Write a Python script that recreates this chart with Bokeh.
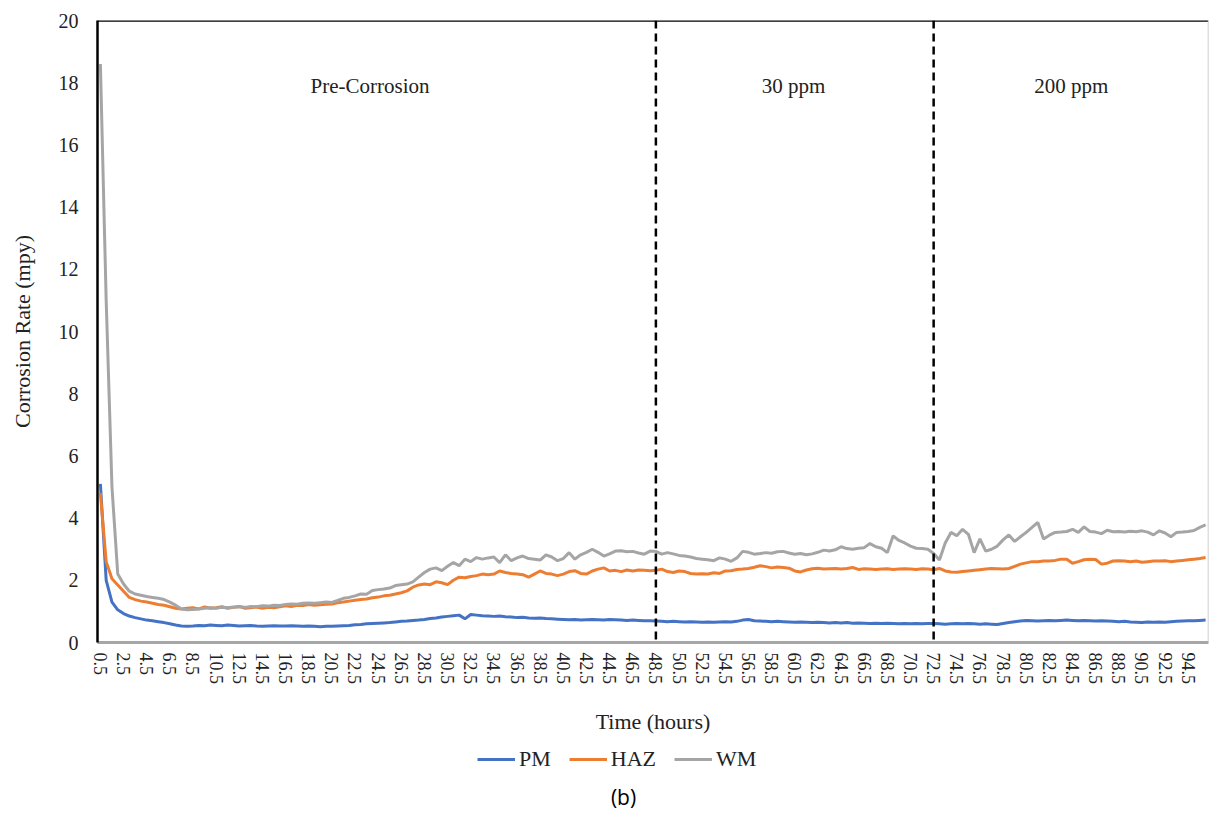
import numpy as np
from bokeh.plotting import figure
from bokeh.layouts import column
from bokeh.models import (Range1d, FixedTicker, Span, Legend, LegendItem, Label,
                          ColumnDataSource)
from bokeh.core.properties import value
from bokeh.embed import file_html
from bokeh.resources import INLINE

# ---------------- data ----------------
hours = list(np.arange(0.5, 96.01, 0.5))  # category axis, every 0.5 h

pm = [
    5.1, 2.0, 1.3, 1.05, 0.93, 0.85, 0.8, 0.76, 0.72, 0.7, 0.67, 0.64, 0.6, 0.56, 0.53, 0.52,
    0.53, 0.55, 0.54, 0.56, 0.55, 0.54, 0.56, 0.55, 0.53, 0.54, 0.55, 0.53, 0.52, 0.53, 0.54, 0.53,
    0.53, 0.54, 0.53, 0.52, 0.53, 0.52, 0.51, 0.52, 0.52, 0.53, 0.54, 0.55, 0.57, 0.58, 0.6, 0.61,
    0.62, 0.63, 0.64, 0.66, 0.68, 0.69, 0.71, 0.72, 0.74, 0.77, 0.79, 0.82, 0.84, 0.86, 0.88, 0.76,
    0.9, 0.88, 0.86, 0.85, 0.84, 0.85, 0.83, 0.82, 0.8, 0.81, 0.79, 0.78, 0.79, 0.77, 0.76, 0.75,
    0.74, 0.73, 0.74, 0.72, 0.73, 0.74, 0.73, 0.72, 0.74, 0.73, 0.72, 0.71, 0.72, 0.71, 0.7, 0.7,
    0.69, 0.68, 0.67, 0.68, 0.67, 0.66, 0.67, 0.66, 0.65, 0.66, 0.65, 0.66, 0.67, 0.66, 0.68, 0.72,
    0.74, 0.7, 0.69, 0.68, 0.67, 0.68, 0.67, 0.66, 0.65, 0.66, 0.65, 0.64, 0.65, 0.64, 0.63, 0.64,
    0.63, 0.64, 0.62, 0.63, 0.62, 0.61, 0.62, 0.61, 0.62, 0.61, 0.6, 0.61, 0.6, 0.61, 0.6, 0.61,
    0.61, 0.6, 0.59, 0.6, 0.61, 0.6, 0.61, 0.6, 0.59, 0.6, 0.59, 0.58, 0.61, 0.64, 0.67, 0.69,
    0.71, 0.7, 0.69, 0.7, 0.71, 0.7, 0.71, 0.72, 0.71, 0.7, 0.71, 0.7, 0.69, 0.7, 0.69, 0.68,
    0.67, 0.68, 0.66, 0.65, 0.64, 0.66, 0.65, 0.66, 0.65, 0.67, 0.68, 0.69, 0.7, 0.7, 0.71, 0.72,
]

haz = [
    4.8, 2.6, 2.05, 1.85, 1.65, 1.45, 1.38, 1.33, 1.3, 1.26, 1.22, 1.2, 1.15, 1.1, 1.08, 1.1,
    1.12, 1.08, 1.14, 1.1, 1.12, 1.15, 1.1, 1.13, 1.16, 1.1, 1.12, 1.14, 1.1, 1.13, 1.12, 1.15,
    1.18, 1.16, 1.2, 1.19, 1.22, 1.2, 1.21, 1.23, 1.24, 1.28, 1.3, 1.33, 1.36, 1.38, 1.4, 1.44,
    1.46, 1.5, 1.52, 1.56, 1.6, 1.66, 1.78, 1.85, 1.88, 1.86, 1.95, 1.92, 1.86, 2.0, 2.1, 2.08,
    2.12, 2.15, 2.2, 2.18, 2.2, 2.3, 2.25, 2.22, 2.2, 2.18, 2.1, 2.2, 2.3, 2.22, 2.2, 2.15,
    2.2, 2.28, 2.31, 2.22, 2.2, 2.3, 2.36, 2.4, 2.3, 2.32, 2.28, 2.33, 2.3, 2.33, 2.32, 2.31,
    2.32, 2.36, 2.28, 2.25, 2.3, 2.28, 2.22, 2.2, 2.21, 2.2, 2.24, 2.22, 2.3, 2.31, 2.35, 2.36,
    2.38, 2.42, 2.47, 2.44, 2.4, 2.43, 2.41, 2.39, 2.3, 2.27, 2.33, 2.37, 2.39, 2.36, 2.37, 2.38,
    2.36, 2.38, 2.41, 2.35, 2.37, 2.36, 2.35, 2.36, 2.37, 2.35, 2.36, 2.37, 2.36, 2.35, 2.37, 2.36,
    2.34, 2.38, 2.3, 2.27, 2.26, 2.28, 2.3, 2.32, 2.34, 2.36, 2.38, 2.37, 2.36, 2.38, 2.45, 2.52,
    2.56, 2.6, 2.6, 2.62, 2.62, 2.64, 2.68, 2.68, 2.55, 2.6, 2.66, 2.68, 2.67, 2.52, 2.55, 2.62,
    2.63, 2.62, 2.6, 2.62, 2.58, 2.6, 2.62, 2.62, 2.63, 2.6, 2.62, 2.64, 2.66, 2.68, 2.7, 2.73,
]

wm = [
    18.6, 11.0, 5.0, 2.2, 1.88, 1.65, 1.56, 1.52, 1.48, 1.45, 1.42, 1.38, 1.3, 1.2, 1.08, 1.05,
    1.06, 1.08, 1.1, 1.12, 1.1, 1.13, 1.12, 1.14, 1.15, 1.13, 1.16, 1.15, 1.18, 1.17, 1.2, 1.19,
    1.22, 1.24, 1.23, 1.26, 1.27, 1.26, 1.28, 1.3, 1.29, 1.35, 1.42, 1.45, 1.5, 1.56, 1.55, 1.67,
    1.7, 1.72, 1.75, 1.83, 1.86, 1.88, 1.95, 2.1, 2.25, 2.36, 2.4, 2.31, 2.45, 2.57, 2.47, 2.68,
    2.6, 2.73, 2.68, 2.72, 2.75, 2.57, 2.82, 2.63, 2.72, 2.78, 2.7, 2.68, 2.65, 2.82, 2.75, 2.63,
    2.7, 2.89, 2.68, 2.82, 2.9, 3.0, 2.9, 2.78, 2.85, 2.94, 2.95, 2.92, 2.93, 2.88, 2.84, 2.94,
    2.93, 2.84, 2.89, 2.85, 2.8, 2.78, 2.75, 2.7, 2.68, 2.66, 2.63, 2.72, 2.68, 2.61, 2.72, 2.93,
    2.9, 2.84, 2.86, 2.89, 2.87, 2.92, 2.93, 2.88, 2.84, 2.86, 2.82, 2.85, 2.9, 2.97, 2.94, 2.98,
    3.08, 3.02, 3.0, 3.03, 3.05, 3.18, 3.08, 3.03, 2.89, 3.43, 3.28, 3.2, 3.1, 3.03, 3.02, 3.0,
    2.86, 2.65, 3.2, 3.54, 3.43, 3.64, 3.48, 2.89, 3.33, 2.94, 3.0, 3.1, 3.3, 3.46, 3.25, 3.4,
    3.54, 3.7, 3.86, 3.33, 3.45, 3.54, 3.55, 3.57, 3.64, 3.54, 3.72, 3.57, 3.55, 3.5, 3.61, 3.56,
    3.57, 3.55, 3.58, 3.56, 3.59, 3.55, 3.46, 3.59, 3.52, 3.4, 3.54, 3.55, 3.57, 3.6, 3.7, 3.78,
]

tick_hours = [0.5 + 2 * i for i in range(48)]
y_ticks = [0, 2, 4, 6, 8, 10, 12, 14, 16, 18, 20]
phase_boundaries = [48.5, 72.5]
phase_labels = ["Pre-Corrosion", "30 ppm", "200 ppm"]
phase_label_x = [23.8, 60.4, 84.4]
phase_label_y = [17.9, 17.9, 17.9]

series_names = ["PM", "HAZ", "WM"]
series_colors = ["#4472C4", "#ED7D31", "#A5A5A5"]

SERIF = "Liberation Serif"
TXT = "#222222"

# ---------------- main chart ----------------
p = figure(width=1209, height=742, output_backend="svg", toolbar_location=None,
           x_range=Range1d(0.25, 96.25), y_range=Range1d(0, 20),
           min_border_left=97, min_border_right=1, min_border_top=20,
           min_border_bottom=100)
p.outline_line_color = None
p.xgrid.visible = False
p.ygrid.visible = False

src = ColumnDataSource(dict(t=hours, PM=pm, HAZ=haz, WM=wm))
for name, col in zip(series_names, series_colors):
    p.line("t", name, source=src, line_color=col, line_width=3)

for b in phase_boundaries:
    p.add_layout(Span(location=b, dimension="height", line_color="black",
                      line_width=2.5, line_dash="8 5"))

# frame edges
p.add_layout(Span(location=20, dimension="width", line_color="black", line_width=2.5))
p.add_layout(Span(location=96.25, dimension="height", line_color="#BFBFBF", line_width=1.5))

lab_src = ColumnDataSource(dict(x=phase_label_x, y=phase_label_y, text=phase_labels))
p.text("x", "y", text="text", source=lab_src, text_font=value(SERIF),
       text_font_size="21px", text_align="center", text_baseline="middle",
       text_color=TXT)

# y axis
ya = p.yaxis[0]
ya.ticker = FixedTicker(ticks=y_ticks)
ya.axis_line_color = "black"
ya.axis_line_width = 2.5
ya.major_tick_line_color = None
ya.minor_tick_line_color = None
ya.major_tick_out = 0
ya.major_tick_in = 0
ya.major_label_standoff = 19
ya.major_label_text_font = SERIF
ya.major_label_text_font_size = "20px"
ya.major_label_text_color = TXT
ya.axis_label = "Corrosion Rate (mpy)"
ya.axis_label_text_font = SERIF
ya.axis_label_text_font_size = "22px"
ya.axis_label_text_font_style = "normal"
ya.axis_label_text_color = TXT
ya.axis_label_standoff = 21

# x axis
xa = p.xaxis[0]
xa.ticker = FixedTicker(ticks=tick_hours)
xa.major_label_overrides = {h: f"{h:.1f}" for h in tick_hours}
xa.major_label_orientation = "vertical"
xa.axis_line_color = "#A6A6A6"
xa.axis_line_width = 3
xa.major_tick_line_color = None
xa.minor_tick_line_color = None
xa.major_tick_out = 0
xa.major_tick_in = 0
xa.major_label_standoff = 10
xa.major_label_text_font = SERIF
xa.major_label_text_font_size = "18px"
xa.major_label_text_color = TXT
xa.axis_label = "Time (hours)"
xa.axis_label_text_font = SERIF
xa.axis_label_text_font_size = "22px"
xa.axis_label_text_font_style = "normal"
xa.axis_label_text_color = TXT
xa.axis_label_standoff = 22

# ---------------- legend strip + caption ----------------
# (the column layout aligns this strip's frame with the chart's frame, i.e. left edge at x=97)
q = figure(width=1209, height=72, output_backend="svg", toolbar_location=None,
           x_range=Range1d(0, 1), y_range=Range1d(0, 1),
           x_axis_location=None, y_axis_location=None, min_border=0)
q.outline_line_color = None
q.grid.visible = False

nan = float("nan")
items = []
for name, col in zip(series_names, series_colors):
    r = q.line(x=[nan, nan], y=[nan, nan], line_color=col, line_width=3)
    items.append(LegendItem(label=name, renderers=[r]))

legend = Legend(items=items, orientation="horizontal", location=(380, 42),
                label_text_font=SERIF, label_text_font_size="22px",
                label_text_color=TXT, label_height=20, glyph_height=20,
                glyph_width=38, label_standoff=4, spacing=18,
                border_line_color=None, background_fill_alpha=0,
                padding=0, margin=0)
q.add_layout(legend, "center")

q.add_layout(Label(x=526, y=18, x_units="screen", y_units="screen", text="(b)",
                   text_font="Open Sans", text_font_size="21px",
                   text_align="center", text_baseline="middle",
                   text_color="#000000"))

layout = column(p, q, spacing=0)
open("out.html", "w").write(file_html(layout, INLINE))
